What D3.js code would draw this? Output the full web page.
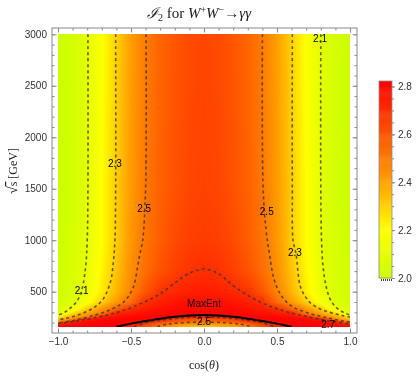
<!DOCTYPE html>
<html>
<head>
<meta charset="utf-8">
<script src="https://cdn.jsdelivr.net/npm/d3@7"></script>
<style>
body { margin: 0; background: #fff; }
#chart { position: relative; width: 420px; height: 377px; }
#chart canvas, #chart svg { position: absolute; left: 0; top: 0; }
</style>
</head>
<body>
<div id="chart"></div>
<script>
// grid: columns = cos(theta), rows = sqrt(s) in GeV
const cosTheta = [-1,-0.9,-0.8,-0.7,-0.6,-0.5,-0.4,-0.3,-0.2,-0.1,0,0.1,0.2,0.3,0.4,0.5,0.6,0.7,0.8,0.9,1]
const sqrtS = [161,175,190,210,235,260,290,330,400,500,700,1000,1500,3000]
const i2Grid = [
  [2.82,2.82,2.82,2.82,2.82,2.72,2.60,2.48,2.40,2.35,2.33,2.35,2.40,2.48,2.60,2.72,2.82,2.82,2.82,2.82,2.82], //161
  [2.78,2.81,2.82,2.82,2.82,2.76,2.64,2.53,2.44,2.40,2.38,2.40,2.44,2.53,2.64,2.76,2.82,2.82,2.82,2.81,2.78], //175
  [2.68,2.78,2.81,2.82,2.82,2.80,2.68,2.58,2.49,2.46,2.45,2.46,2.49,2.58,2.68,2.80,2.82,2.82,2.81,2.78,2.68], //190
  [2.42,2.76,2.80,2.81,2.82,2.80,2.73,2.66,2.60,2.55,2.52,2.55,2.60,2.66,2.73,2.80,2.82,2.81,2.80,2.76,2.42], //210
  [2.32,2.45,2.76,2.79,2.81,2.82,2.82,2.80,2.66,2.63,2.60,2.63,2.66,2.80,2.82,2.82,2.81,2.79,2.76,2.45,2.32], //235
  [2.22,2.38,2.46,2.72,2.78,2.80,2.81,2.82,2.82,2.79,2.76,2.79,2.82,2.82,2.81,2.80,2.78,2.72,2.46,2.38,2.22], //260
  [2.07,2.28,2.40,2.50,2.74,2.76,2.78,2.80,2.81,2.81,2.81,2.81,2.81,2.80,2.78,2.76,2.74,2.50,2.40,2.28,2.07], //290
  [2.06,2.14,2.32,2.44,2.57,2.71,2.75,2.78,2.80,2.80,2.80,2.80,2.80,2.78,2.75,2.71,2.57,2.44,2.32,2.14,2.06], //330
  [2.04,2.08,2.17,2.30,2.42,2.54,2.70,2.74,2.77,2.79,2.79,2.79,2.77,2.74,2.70,2.54,2.42,2.30,2.17,2.08,2.04], //400
  [2.03,2.06,2.13,2.24,2.36,2.48,2.60,2.69,2.72,2.74,2.75,2.74,2.72,2.69,2.60,2.48,2.36,2.24,2.13,2.06,2.03], //500
  [2.02,2.06,2.12,2.22,2.33,2.45,2.54,2.61,2.66,2.69,2.70,2.69,2.66,2.61,2.54,2.45,2.33,2.22,2.12,2.06,2.02], //700
  [2.02,2.05,2.11,2.20,2.31,2.43,2.52,2.58,2.63,2.66,2.67,2.66,2.63,2.58,2.52,2.43,2.31,2.20,2.11,2.05,2.02], //1000
  [2.01,2.04,2.10,2.20,2.31,2.42,2.51,2.57,2.61,2.64,2.65,2.64,2.61,2.57,2.51,2.42,2.31,2.20,2.10,2.04,2.01], //1500
  [2.01,2.04,2.10,2.19,2.30,2.41,2.50,2.56,2.60,2.63,2.64,2.63,2.60,2.56,2.50,2.41,2.30,2.19,2.10,2.04,2.01]  //3000
]

// contour lines, [cos(theta), sqrt(s)]
const contour21L = [[-0.795,3000],[-0.795,1500],[-0.80,1000],[-0.81,750],[-0.83,560],[-0.85,460],[-0.88,390],[-0.92,335],[-0.96,295],[-1,272]]
const contour21R = [[0.80,3000],[0.80,1500],[0.805,1000],[0.815,750],[0.835,560],[0.86,440],[0.89,370],[0.93,320],[0.97,290],[1,274]]
const contour23L = [[-0.605,3000],[-0.605,1500],[-0.61,1000],[-0.62,800],[-0.64,600],[-0.69,430],[-0.74,360],[-0.80,310],[-0.88,265],[-0.95,240],[-1,228]]
const contour23R = [[0.605,3000],[0.605,1500],[0.61,1000],[0.63,870],[0.66,550],[0.70,440],[0.73,390],[0.80,330],[0.88,292],[0.95,268],[1,255]]
const contour25L = [[-0.397,3000],[-0.40,1500],[-0.42,1000],[-0.44,860],[-0.455,740],[-0.485,540],[-0.55,400],[-0.65,320],[-0.78,260],[-0.9,218],[-1,198]]
const contour25R = [[0.40,3000],[0.405,1500],[0.425,1100],[0.45,850],[0.48,620],[0.53,460],[0.60,360],[0.72,290],[0.85,245],[0.95,216],[1,205]]
const contour27 = [[-1,190],[-0.9,210],[-0.8,235],[-0.7,262],[-0.6,298],[-0.5,345],[-0.4,405],[-0.3,480],[-0.2,585],[-0.1,680],[0,720],
                   [0.1,675],[0.2,560],[0.3,465],[0.4,390],[0.5,335],[0.6,292],[0.7,260],[0.8,232],[0.9,207],[1,188]]
const contour27dip = [[-0.48,161],[-0.4,198],[-0.3,222],[-0.15,246],[0,254],[0.15,246],[0.3,222],[0.4,198],[0.48,161]]
const contour25dip = [[-0.32,161],[-0.25,185],[-0.15,198],[0,206],[0.15,198],[0.25,185],[0.32,161]]
const maxEnt = [[-0.6,161],[-0.5,190],[-0.4,215],[-0.3,238],[-0.2,256],[-0.1,268],[0,273],[0.1,268],[0.2,256],[0.3,238],[0.4,215],[0.5,190],[0.6,161]]

const contourLabels = [["2.1",-0.838,507],["2.1",0.795,2960],["2.3",-0.61,1747],["2.3",0.623,878],
                       ["2.5",-0.41,1310],["2.5",0.43,1277],["2.5",0.0,206],["2.7",0.85,186]]

const xMajorTicks = [-1,-0.5,0,0.5,1]
const yMajorTicks = [500,1000,1500,2000,2500,3000]
const legendTicks = [2.0,2.2,2.4,2.6,2.8]

const W = 420, H = 377
const frame = {left: 52, right: 357, top: 28, bottom: 333}
const serif = "'Liberation Serif','DejaVu Serif',serif"
const sans = "'Liberation Sans',Arial,sans-serif"

const x = d3.scaleLinear().domain([-1, 1]).range([58, 350])
const y = d3.scaleLinear().domain([0, 3000]).range([343.2, 34.3])

const color = d3.scaleLinear()
  .domain([2.0, 2.2, 2.4, 2.6, 2.823])
  .range(["#c8ff00", "#ffff00", "#ffa200", "#ff5500", "#ff0000"])
  .clamp(true)

//bilinear lookup in the grid
function valueAt(c, e) {
  c = Math.max(-1, Math.min(1, c))
  e = Math.max(sqrtS[0], Math.min(3000, e))
  let i = Math.max(0, Math.min(d3.bisectRight(cosTheta, c) - 1, cosTheta.length - 2))
  let j = Math.max(0, Math.min(d3.bisectRight(sqrtS, e) - 1, sqrtS.length - 2))
  const tx = (c - cosTheta[i]) / (cosTheta[i+1] - cosTheta[i])
  const ty = (e - sqrtS[j]) / (sqrtS[j+1] - sqrtS[j])
  return i2Grid[j][i]*(1-tx)*(1-ty) + i2Grid[j][i+1]*tx*(1-ty) +
         i2Grid[j+1][i]*(1-tx)*ty + i2Grid[j+1][i+1]*tx*ty
}

// heatmap on canvas
const canvas = d3.select("#chart").append("canvas").attr("width", W).attr("height", H)
const cx = canvas.node().getContext("2d")
const px0 = Math.round(x(-1)), px1 = Math.round(x(1))
const py0 = Math.round(y(3000)), py1 = Math.round(y(sqrtS[0]))
const img = cx.createImageData(px1 - px0, py1 - py0)
for (let py = py0; py < py1; py++) {
  for (let px = px0; px < px1; px++) {
    const c = d3.rgb(color(valueAt(x.invert(px + 0.5), y.invert(py + 0.5))))
    const k = ((py - py0) * (px1 - px0) + (px - px0)) * 4
    img.data[k] = c.r; img.data[k+1] = c.g; img.data[k+2] = c.b; img.data[k+3] = 255
  }
}
cx.putImageData(img, px0, py0)

const svg = d3.select("#chart").append("svg").attr("width", W).attr("height", H)

svg.append("defs").append("clipPath").attr("id", "plotClip")
  .append("rect").attr("x", px0).attr("y", py0).attr("width", px1 - px0).attr("height", py1 - py0)

const line = d3.line().x(d => x(d[0])).y(d => y(d[1])).curve(d3.curveCatmullRom.alpha(0.5))

const lines = svg.append("g").attr("clip-path", "url(#plotClip)")
;[contour21L, contour21R, contour23L, contour23R, contour25L, contour25R, contour27, contour27dip, contour25dip].forEach(c => {
  lines.append("path").attr("d", line(c))
    .attr("fill", "none").attr("stroke", "#333").attr("stroke-opacity", 0.75)
    .attr("stroke-width", 1.6).attr("stroke-dasharray", "3,3")
})
lines.append("path").attr("d", line(maxEnt))
  .attr("fill", "none").attr("stroke", "#000").attr("stroke-width", 2)

// contour labels
svg.append("g").selectAll("text").data(contourLabels).join("text")
  .attr("x", d => x(d[1])).attr("y", d => y(d[2]))
  .attr("dy", "0.35em").attr("text-anchor", "middle")
  .style("font-family", sans).style("font-size", "10px").attr("fill", "#000")
  .text(d => d[0])
svg.append("text").attr("x", x(0)).attr("y", y(390)).attr("dy", "0.35em").attr("text-anchor", "middle")
  .style("font-family", sans).style("font-size", "10px").attr("fill", "#111").text("MaxEnt")

// frame + ticks
const tickColor = "#8a8a8a"
function styleAxis(g) {
  g.select(".domain").remove()
  g.selectAll("line").attr("stroke", tickColor)
  g.selectAll("text").style("font-family", sans).style("font-size", "10px").attr("fill", "#333")
}
const xMinor = d3.range(-1, 1.001, 0.1)
const yMinor = d3.range(200, 3001, 100)

svg.append("g").attr("transform", `translate(0,${frame.bottom})`)
  .call(d3.axisBottom(x).tickValues(xMinor).tickSize(-2.5).tickFormat("")).call(styleAxis)
svg.append("g").attr("transform", `translate(0,${frame.bottom})`)
  .call(d3.axisBottom(x).tickValues(xMajorTicks).tickSize(-4.5).tickPadding(5).tickFormat(d3.format(".1f"))).call(styleAxis)
svg.append("g").attr("transform", `translate(0,${frame.top})`)
  .call(d3.axisTop(x).tickValues(xMinor).tickSize(-2.5).tickFormat("")).call(styleAxis)
svg.append("g").attr("transform", `translate(0,${frame.top})`)
  .call(d3.axisTop(x).tickValues(xMajorTicks).tickSize(-4.5).tickFormat("")).call(styleAxis)

svg.append("g").attr("transform", `translate(${frame.left},0)`)
  .call(d3.axisLeft(y).tickValues(yMinor).tickSize(-2.5).tickFormat("")).call(styleAxis)
svg.append("g").attr("transform", `translate(${frame.left},0)`)
  .call(d3.axisLeft(y).tickValues(yMajorTicks).tickSize(-4.5).tickPadding(5).tickFormat(d3.format("d"))).call(styleAxis)
svg.append("g").attr("transform", `translate(${frame.right},0)`)
  .call(d3.axisRight(y).tickValues(yMinor).tickSize(-2.5).tickFormat("")).call(styleAxis)
svg.append("g").attr("transform", `translate(${frame.right},0)`)
  .call(d3.axisRight(y).tickValues(yMajorTicks).tickSize(-4.5).tickFormat("")).call(styleAxis)

svg.append("rect").attr("x", frame.left).attr("y", frame.top)
  .attr("width", frame.right - frame.left).attr("height", frame.bottom - frame.top)
  .attr("fill", "none").attr("stroke", tickColor).attr("stroke-width", 1)

// title
const title = svg.append("text").attr("x", 199).attr("y", 18).attr("text-anchor", "middle")
  .style("font-family", serif).style("font-size", "15px").attr("fill", "#222")
title.append("tspan").style("font-style", "italic").text("ℐ")
title.append("tspan").attr("dy", 3).style("font-size", "10px").text("2")
title.append("tspan").attr("dy", -3).text(" for ")
title.append("tspan").style("font-style", "italic").text("W")
title.append("tspan").attr("dy", -5).style("font-size", "10px").text("+")
title.append("tspan").attr("dy", 5).style("font-style", "italic").text("W")
title.append("tspan").attr("dy", -5).style("font-size", "10px").text("−")
title.append("tspan").attr("dy", 5).text("→")
title.append("tspan").style("font-style", "italic").text("γγ")

// axis titles
const xt = svg.append("text").attr("x", 204).attr("y", 369).attr("text-anchor", "middle")
  .style("font-family", serif).style("font-size", "12px").attr("fill", "#222")
xt.append("tspan").text("cos(")
xt.append("tspan").style("font-style", "italic").text("θ")
xt.append("tspan").text(")")

const yt = svg.append("text").attr("transform", "translate(17,171) rotate(-90)").attr("text-anchor", "middle")
  .style("font-family", serif).style("font-size", "12px").attr("fill", "#222")
yt.append("tspan").style("font-size", "14px").text("√")
yt.append("tspan").style("text-decoration", "overline").text("s")
yt.append("tspan").text("  [GeV]")

// legend bar
const legendY = d3.scaleLinear().domain([2.0, 2.823]).range([278, 81])
const legendX = 379, legendW = 13
const legendSteps = d3.range(2.0, 2.823, 0.004)
svg.append("g").selectAll("rect").data(legendSteps).join("rect")
  .attr("x", legendX).attr("width", legendW)
  .attr("y", d => legendY(Math.min(d + 0.004, 2.823)))
  .attr("height", d => legendY(d) - legendY(Math.min(d + 0.004, 2.823)) + 0.5)
  .attr("fill", d => color(d + 0.002))
svg.append("rect").attr("x", legendX).attr("y", legendY(2.823)).attr("width", legendW)
  .attr("height", legendY(2.0) - legendY(2.823)).attr("fill", "none").attr("stroke", tickColor).attr("stroke-width", 0.8)

svg.append("g").attr("transform", `translate(${legendX + legendW},0)`)
  .call(d3.axisRight(legendY).tickValues(d3.range(2.0, 2.81, 0.05)).tickSize(2).tickFormat("")).call(styleAxis)
svg.append("g").attr("transform", `translate(${legendX + legendW},0)`)
  .call(d3.axisRight(legendY).tickValues(legendTicks).tickSize(3).tickPadding(3).tickFormat(d3.format(".1f"))).call(styleAxis)

svg.append("line").attr("x1", legendX + 2).attr("x2", legendX + legendW).attr("y1", 280).attr("y2", 280)
  .attr("stroke", "#000").attr("stroke-width", 1.5).attr("stroke-dasharray", "1,1")
</script>
</body>
</html>
